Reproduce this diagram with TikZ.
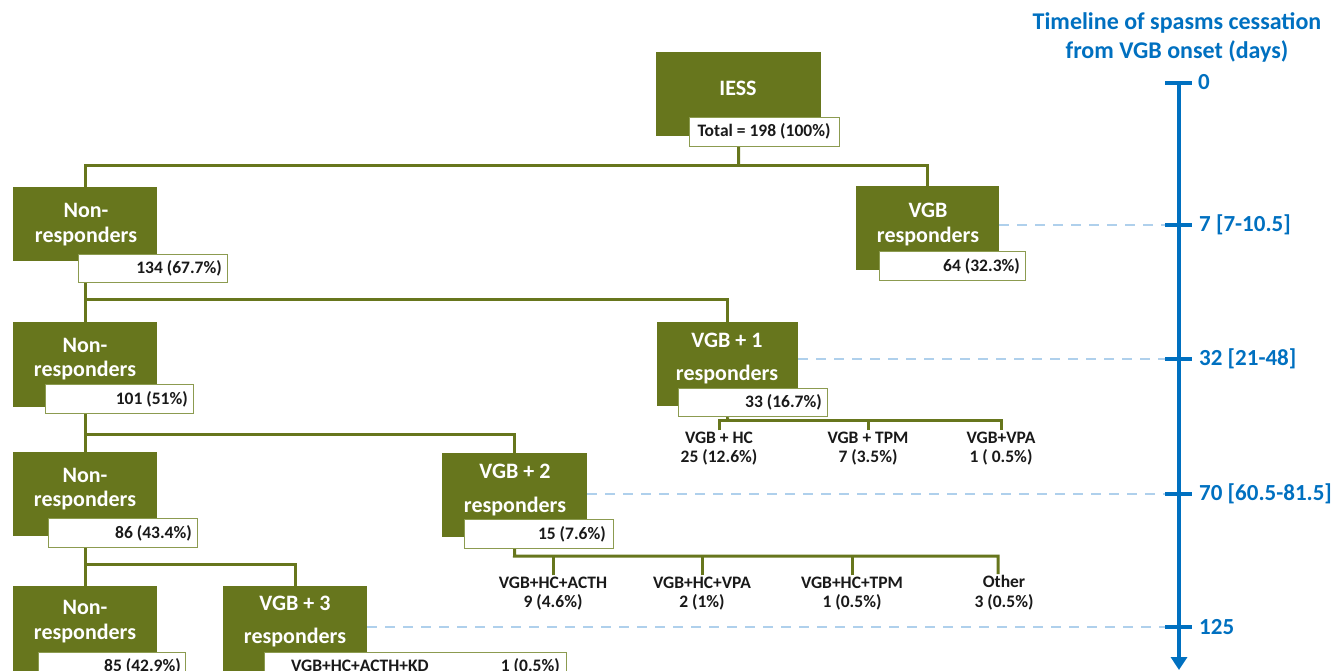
\documentclass[tikz,border=0pt]{standalone}
\usepackage{fontspec}
\setmainfont{Carlito}
\usetikzlibrary{arrows.meta}
\definecolor{tg}{RGB}{103,118,29}
\definecolor{tgline}{RGB}{140,155,80}
\definecolor{tblue}{RGB}{0,112,192}
\definecolor{lblue}{RGB}{175,208,236}
\tikzset{
  gbox/.style={fill=tg, draw=none, anchor=north west, inner sep=0pt},
  wbox/.style={fill=white, draw=tgline, line width=1.2pt, anchor=north west, inner sep=0pt},
  ttl/.style={text=white, font=\bfseries\fontsize{22}{24.5}\selectfont, align=center, inner sep=0pt},
  ttlw/.style={text=white, font=\bfseries\fontsize{22}{33.5}\selectfont, align=center, inner sep=0pt},
  num/.style={text=black!90, font=\bfseries\fontsize{17.5}{19.5}\selectfont, inner sep=0pt},
  sub/.style={num, align=center, inner sep=1pt},
  conn/.style={draw=tg, line width=3pt},
  dline/.style={draw=lblue, line width=2pt, dash pattern=on 10pt off 8pt},
  tl/.style={draw=tblue, line width=4pt},
  tlab/.style={text=tblue, font=\bfseries\fontsize{23}{27}\selectfont, anchor=west, inner sep=0pt},
  ttitle/.style={text=tblue, font=\bfseries\fontsize{24}{29}\selectfont, align=center, inner sep=0pt}
}
\begin{document}
\begin{tikzpicture}[x=1pt,y=-1pt]
\useasboundingbox (0,0) rectangle (1338,671);
\clip (0,0) rectangle (1338,671);

% timeline coordinates
\coordinate (t0) at (1179,83);
\coordinate (t7) at (1179,225);
\coordinate (t32) at (1179,359);
\coordinate (t70) at (1179,494);
\coordinate (t125) at (1179,627);
\coordinate (tend) at (1179,670);

% green boxes
\node[gbox, minimum width=165pt, minimum height=84pt] (iess) at (656,52) {};
\node[gbox, minimum width=144pt, minimum height=74pt] (nr1) at (13,187) {};
\node[gbox, minimum width=143pt, minimum height=84pt] (vgbr) at (856,186) {};
\node[gbox, minimum width=144pt, minimum height=85pt] (nr2) at (13,322) {};
\node[gbox, minimum width=141pt, minimum height=84pt] (vgb1) at (657,322) {};
\node[gbox, minimum width=144pt, minimum height=84pt] (nr3) at (13,452) {};
\node[gbox, minimum width=145pt, minimum height=84pt] (vgb2) at (442,453) {};
\node[gbox, minimum width=144pt, minimum height=100pt] (nr4) at (13,586) {};
\node[gbox, minimum width=144pt, minimum height=100pt] (vgb3) at (223,586) {};

% dashed guide lines
\draw[dline] (vgbr.east |- t7) -- ([xshift=-14pt]t7);
\draw[dline] (vgb1.east |- t32) -- ([xshift=-14pt]t32);
\draw[dline] (vgb2.east |- t70) -- ([xshift=-14pt]t70);
\draw[dline] (vgb3.east |- t125) -- ([xshift=-14pt]t125);

% white boxes
\node[wbox, minimum width=150pt, minimum height=29pt] (totw) at (689,117) {};
\node[wbox, minimum width=149pt, minimum height=28pt] (nr1w) at (78,254) {};
\node[wbox, minimum width=146pt, minimum height=29pt] (vgbrw) at (879,251) {};
\node[wbox, minimum width=148pt, minimum height=29pt] (nr2w) at (45,384) {};
\node[wbox, minimum width=149pt, minimum height=28pt] (vgb1w) at (678,388) {};
\node[wbox, minimum width=149pt, minimum height=29pt] (nr3w) at (48,518) {};
\node[wbox, minimum width=149pt, minimum height=29pt] (vgb2w) at (464,519) {};
\node[wbox, minimum width=147pt, minimum height=40pt] (nr4w) at (38,652) {};
\node[wbox, minimum width=302pt, minimum height=40pt] (vgb3w) at (264,652) {};

% titles
\node[ttl] (iesst) at (738,88) {IESS};
\node[ttl] (nr1t) at (86,224.5) {Non-\\responders};
\node[ttl] (vgbrt) at (928,224.5) {VGB\\responders};
\node[ttl] (nr2t) at (85,359) {Non-\\responders};
\node[ttlw] (vgb1t) at (727,358.5) {VGB + 1\\responders};
\node[ttl] (nr3t) at (85,489) {Non-\\responders};
\node[ttlw] (vgb2t) at (515,490) {VGB + 2\\responders};
\node[ttl] (nr4t) at (85,621.5) {Non-\\responders};
\node[ttlw] (vgb3t) at (295,621.5) {VGB + 3\\responders};

% numbers
\node[num] (totn) at (764,131.5) {Total = 198 (100\%)};
\node[num, anchor=east] (nr1n) at (222,268) {134 (67.7\%)};
\node[num, anchor=east] (vgbrn) at (1020,266) {64 (32.3\%)};
\node[num, anchor=east] (nr2n) at (188,399) {101 (51\%)};
\node[num, anchor=east] (vgb1n) at (822,402) {33 (16.7\%)};
\node[num, anchor=east] (nr3n) at (192,533) {86 (43.4\%)};
\node[num, anchor=east] (vgb2n) at (606,534) {15 (7.6\%)};
\node[num, anchor=east] (nr4n) at (181,666) {85 (42.9\%)};
\node[num, anchor=west] (vgb3a) at (291,666) {VGB+HC+ACTH+KD};
\node[num, anchor=east] (vgb3n) at (560,666) {1 (0.5\%)};

% sub labels
\node[sub] (s11) at (719,448.5) {VGB + HC\\25 (12.6\%)};
\node[sub] (s12) at (868,448.5) {VGB + TPM\\7 (3.5\%)};
\node[sub] (s13) at (1001,448.5) {VGB+VPA\\1 ( 0.5\%)};
\node[sub] (s21) at (553,593.5) {VGB+HC+ACTH\\9 (4.6\%)};
\node[sub] (s22) at (702,593.5) {VGB+HC+VPA\\2 (1\%)};
\node[sub] (s23) at (852,593.5) {VGB+HC+TPM\\1 (0.5\%)};
\node[sub] (s24) at (1004,592.5) {Other\\3 (0.5\%)};

% tree connectors
\coordinate (j0) at (738.5,166);
\coordinate (j1) at (85,299);
\coordinate (j2) at (85,434);
\coordinate (j3) at (85,564);
\coordinate (j4) at (727.5,420);
\coordinate (j5) at (514.5,556);
\draw[conn] (iess.south |- totw.south) -- (j0);
\draw[conn] (nr1.north) |- (j0) -| (vgbr.north);
\draw[conn] (nr1w.south -| nr1.south) -- (nr2.north);
\draw[conn] (j1) -| (vgb1.north);
\draw[conn] (nr2w.south -| nr2.south) -- (nr3.north);
\draw[conn] (j2) -| (vgb2.north);
\draw[conn] (nr3w.south -| nr3.south) -- (nr4.north);
\draw[conn] (j3) -| (vgb3.north);
\draw[conn] (vgb1w.south -| vgb1.south) -- (j4);
\draw[conn] (s11.north) |- (j4) -| (s13.north);
\draw[conn] (s12.north) -- (s12.north |- j4);
\draw[conn] (vgb2w.south -| vgb2.south) -- (j5) -| ([xshift=-6pt]s24.north);
\draw[conn] (s21.north) -- (s21.north |- j5);
\draw[conn] (s22.north) -- (s22.north |- j5);
\draw[conn] (s23.north) -- (s23.north |- j5);

% timeline
\node[ttitle] (title) at (1177,37.5) {Timeline of spasms cessation\\from VGB onset (days)};
\draw[tl, -{Triangle[width=16pt,length=13pt]}] (t0) -- (tend);
\draw[tl] ([xshift=-14pt]t0) -- ([xshift=13pt]t0);
\draw[tl] ([xshift=-14pt]t7) -- ([xshift=13pt]t7);
\draw[tl] ([xshift=-14pt]t32) -- ([xshift=13pt]t32);
\draw[tl] ([xshift=-14pt]t70) -- ([xshift=13pt]t70);
\draw[tl] ([xshift=-14pt]t125) -- ([xshift=13pt]t125);
\node[tlab] (l0) at (1198,82) {0};
\node[tlab] (l7) at (1199,225) {7 [7-10.5]};
\node[tlab] (l32) at (1199,359) {32 [21-48]};
\node[tlab] (l70) at (1199,494) {70 [60.5-81.5]};
\node[tlab] (l125) at (1199,627) {125};
\end{tikzpicture}
\end{document}
